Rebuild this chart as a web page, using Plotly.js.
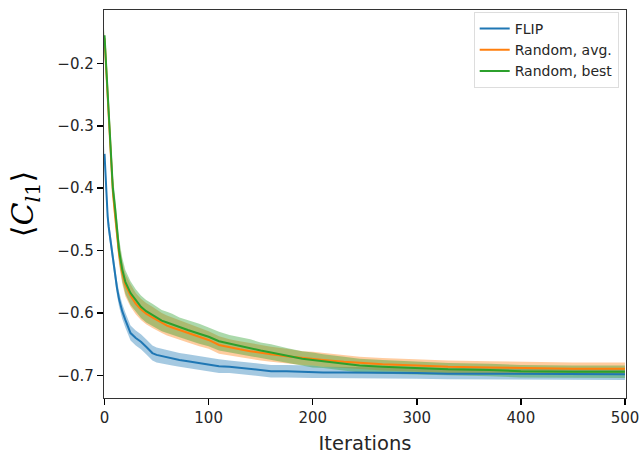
<!DOCTYPE html>
<html>
<head>
<meta charset="utf-8">
<script src="https://cdn.plot.ly/plotly-3.0.1.min.js"></script>
<style>html,body{margin:0;padding:0;background:#fff;}#chart{width:641px;height:456px;}</style>
</head>
<body>
<div id="chart"></div>
<script>
// Iterations
const iters = [0,1,2,3,4,5,6,8,10,12,14,17,20,25,30,35,40,46,50,55,60,65,72,80,91,100,110,120,130,140,150,160,175,190,200,210,230,245,267,300,330,370,400,450,500];

// FLIP (blue)
const flipMean = [-0.345,-0.38,-0.42,-0.445,-0.462,-0.475,-0.488,-0.505,-0.535,-0.56,-0.578,-0.597,-0.611,-0.632,-0.640,-0.646,-0.654,-0.664,-0.667,-0.669,-0.671,-0.673,-0.675,-0.677,-0.680,-0.683,-0.685,-0.686,-0.688,-0.690,-0.692,-0.693,-0.693,-0.694,-0.694,-0.695,-0.695,-0.695,-0.696,-0.696,-0.697,-0.697,-0.697,-0.698,-0.698];
const flipStd  = [0.015,0.014,0.013,0.013,0.012,0.012,0.012,0.012,0.012,0.012,0.012,0.012,0.012,0.012,0.012,0.012,0.012,0.012,0.012,0.012,0.012,0.011,0.011,0.011,0.011,0.011,0.011,0.010,0.010,0.010,0.010,0.010,0.010,0.010,0.010,0.009,0.009,0.009,0.009,0.009,0.009,0.009,0.009,0.009,0.009];

// Random, avg. (orange)
const randAvgMean = [-0.160,-0.190,-0.220,-0.255,-0.290,-0.320,-0.350,-0.405,-0.440,-0.475,-0.505,-0.535,-0.555,-0.572,-0.585,-0.594,-0.601,-0.607,-0.611,-0.616,-0.620,-0.623,-0.627,-0.632,-0.638,-0.643,-0.651,-0.655,-0.658,-0.661,-0.664,-0.666,-0.669,-0.672,-0.673,-0.675,-0.678,-0.680,-0.682,-0.684,-0.686,-0.687,-0.688,-0.689,-0.689];
const randAvgStd  = [0.012,0.013,0.014,0.015,0.016,0.016,0.017,0.018,0.018,0.018,0.018,0.018,0.018,0.018,0.017,0.017,0.017,0.017,0.016,0.016,0.016,0.016,0.015,0.015,0.015,0.014,0.014,0.013,0.013,0.013,0.012,0.012,0.012,0.011,0.011,0.011,0.010,0.010,0.010,0.010,0.010,0.010,0.010,0.010,0.010];

// Random, best (green)
const randBestMean = [-0.155,-0.185,-0.210,-0.245,-0.280,-0.310,-0.340,-0.400,-0.430,-0.470,-0.500,-0.530,-0.550,-0.568,-0.580,-0.590,-0.597,-0.603,-0.607,-0.612,-0.615,-0.618,-0.623,-0.627,-0.633,-0.638,-0.645,-0.649,-0.652,-0.656,-0.660,-0.663,-0.668,-0.673,-0.675,-0.677,-0.681,-0.684,-0.686,-0.688,-0.690,-0.691,-0.693,-0.694,-0.694];
const randBestStd  = [0.012,0.013,0.014,0.015,0.016,0.017,0.017,0.018,0.019,0.019,0.019,0.019,0.019,0.019,0.018,0.018,0.018,0.018,0.017,0.017,0.017,0.017,0.016,0.016,0.016,0.015,0.015,0.014,0.014,0.014,0.013,0.013,0.012,0.012,0.012,0.011,0.011,0.011,0.011,0.010,0.010,0.010,0.010,0.010,0.010];

const series = [
  {name:'FLIP', mean:flipMean, std:flipStd, color:'#1f77b4', band:'rgba(31,119,180,0.4)'},
  {name:'Random, avg.', mean:randAvgMean, std:randAvgStd, color:'#ff7f0e', band:'rgba(255,127,14,0.4)'},
  {name:'Random, best', mean:randBestMean, std:randBestStd, color:'#2ca02c', band:'rgba(44,160,44,0.4)'}
];

const traces = [];
series.forEach(s => {
  const lo = s.mean.map((m,i)=>m - s.std[i]);
  const hi = s.mean.map((m,i)=>m + s.std[i]);
  traces.push({x:iters, y:lo, mode:'lines', line:{width:0, color:s.band}, showlegend:false, hoverinfo:'skip', type:'scatter'});
  traces.push({x:iters, y:hi, mode:'lines', line:{width:0, color:s.band}, fill:'tonexty', fillcolor:s.band, showlegend:false, hoverinfo:'skip', type:'scatter'});
});
series.forEach(s => {
  traces.push({x:iters, y:s.mean, mode:'lines', name:s.name, line:{color:s.color, width:2}, type:'scatter'});
});

const axisCommon = {
  showline:true, linecolor:'#333', linewidth:1.2, mirror:true,
  ticks:'outside', ticklen:6, tickwidth:1.5, tickcolor:'#000',
  showgrid:false, zeroline:false,
  tickfont:{family:'DejaVu Sans', size:15, color:'#262626'}
};

const layout = {
  width:641, height:456,
  margin:{l:104, r:15, t:10, b:58},
  paper_bgcolor:'#fff', plot_bgcolor:'#fff',
  font:{family:'DejaVu Sans', color:'#262626'},
  xaxis:Object.assign({}, axisCommon, {
    range:[-0.5, 501], tickvals:[0,100,200,300,400,500],
    title:{text:'Iterations', font:{family:'DejaVu Sans', size:19.5, color:'#262626'}, standoff:10}
  }),
  yaxis:Object.assign({}, axisCommon, {
    range:[-0.736, -0.1146], tickvals:[-0.7,-0.6,-0.5,-0.4,-0.3,-0.2],
    ticktext:['\u22120.7','\u22120.6','\u22120.5','\u22120.4','\u22120.3','\u22120.2'],
    title:{text:'\u27E8<i>C</i><sub><i>l</i>1</sub>\u27E9', font:{family:'DejaVu Serif', size:30, color:'#000'}, standoff:14}
  }),
  legend:{x:0.986, y:0.995, xanchor:'right', yanchor:'top', bgcolor:'#fff', bordercolor:'#ddd', borderwidth:1,
          traceorder:'normal',
          font:{family:'DejaVu Sans', size:14, color:'#262626'}, tracegroupgap:0},
  showlegend:true
};

Plotly.newPlot('chart', traces, layout, {displayModeBar:false, staticPlot:true});
</script>
</body>
</html>
